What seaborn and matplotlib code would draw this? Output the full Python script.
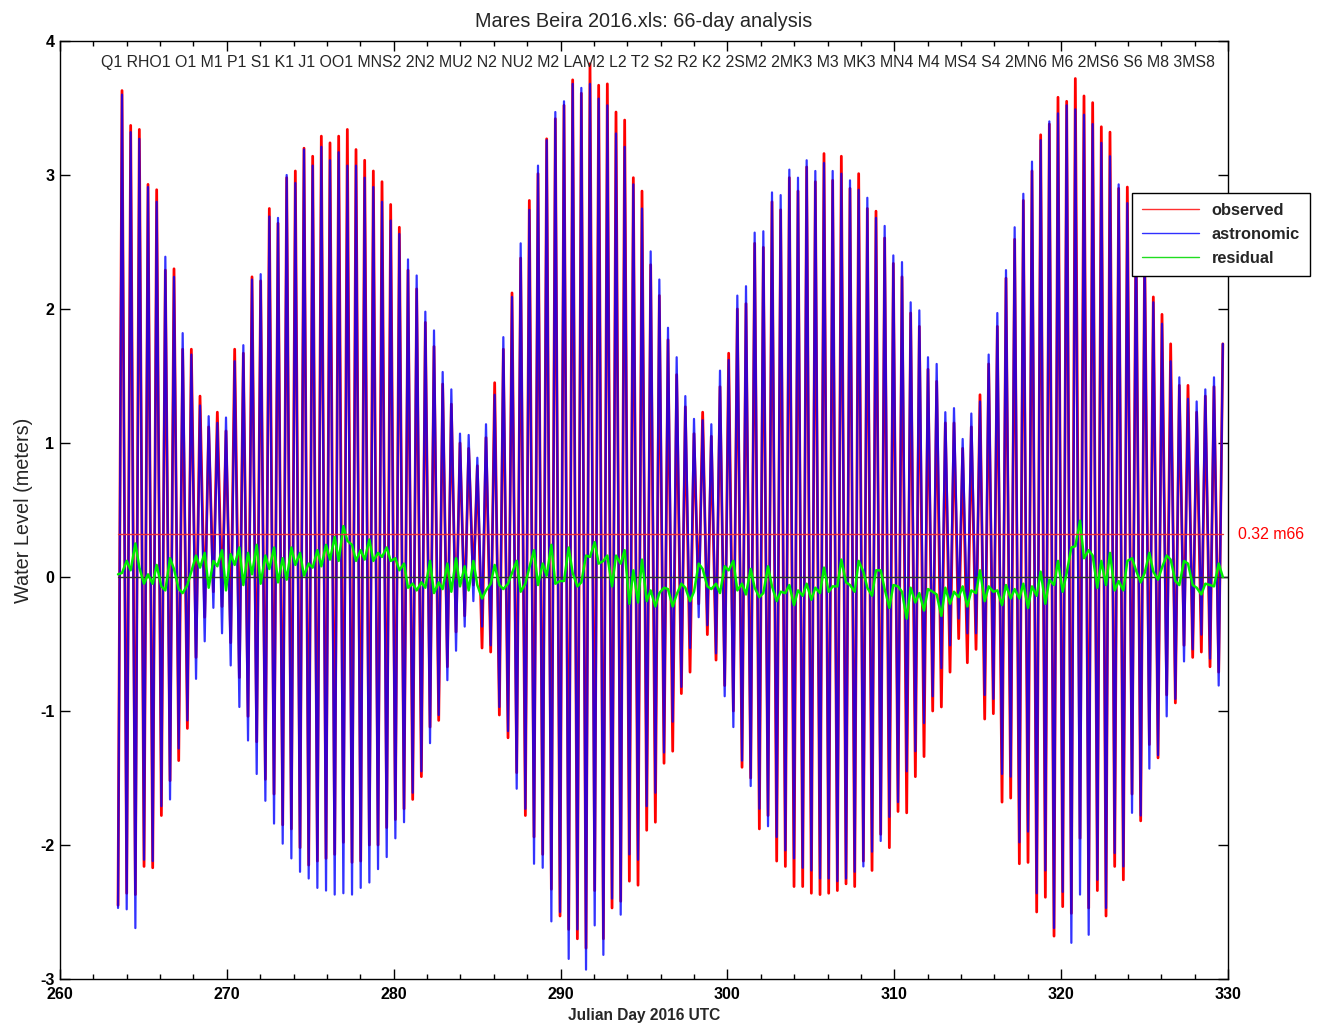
import numpy as np
import pandas as pd
import matplotlib
matplotlib.use("Agg")
import matplotlib.pyplot as plt
from matplotlib.lines import Line2D
from matplotlib.ticker import MultipleLocator
import seaborn as sns

# ---------------------------------------------------------------------------
# Tidal extremes, Beira 2016 (Julian day time base, metres)
# ---------------------------------------------------------------------------
first_high_day = 263.716      # day of the first high water
low_offset = -0.2378          # low waters relative to the high-water grid
extreme_period = 0.5194       # spacing of successive highs (days)

# astronomic (predicted) high waters
high_astro = [
    3.60, 3.32, 3.27, 2.91, 2.80, 2.39, 2.24, 1.82, 1.66, 1.28,
    1.20, 1.15, 1.19, 1.61, 1.73, 2.22, 2.26, 2.69, 2.68, 3.00,
    2.94, 3.19, 3.07, 3.21, 3.11, 3.17, 3.07, 3.07, 2.98, 2.91,
    2.80, 2.66, 2.56, 2.37, 2.25, 1.98, 1.84, 1.53, 1.40, 1.07,
    1.06, 0.89, 1.14, 1.36, 1.79, 2.09, 2.49, 2.74, 3.07, 3.26,
    3.47, 3.55, 3.68, 3.65, 3.68, 3.57, 3.52, 3.31, 3.21, 2.93,
    2.75, 2.43, 2.22, 1.86, 1.64, 1.35, 1.18, 1.17, 1.14, 1.54,
    1.62, 2.10, 2.17, 2.57, 2.58, 2.87, 2.85, 3.04, 2.98, 3.11,
    3.03, 3.09, 3.03, 3.01, 2.96, 2.89, 2.83, 2.68, 2.62, 2.40,
    2.35, 2.05, 1.99, 1.64, 1.59, 1.23, 1.26, 1.03, 1.22, 1.31,
    1.66, 1.97, 2.29, 2.61, 2.86, 3.10, 3.26, 3.40, 3.46, 3.52,
    3.49, 3.45, 3.38, 3.24, 3.14, 2.93, 2.79, 2.60, 2.42, 2.05,
    1.89, 1.61, 1.49, 1.33, 1.31, 1.40, 1.49,
]
# residual (observed - astronomic) at each high water
high_resid = [
    0.03, 0.05, 0.07, 0.02, 0.09, -0.10, 0.06, -0.12, 0.04, 0.07,
    -0.08, 0.08, -0.10, 0.09, -0.06, 0.02, -0.05, 0.06, -0.04, -0.02,
    0.09, 0.01, 0.07, 0.08, 0.13, 0.12, 0.27, 0.12, 0.13, 0.12,
    0.15, 0.12, 0.05, -0.08, -0.10, -0.08, -0.12, -0.09, -0.11, -0.07,
    -0.10, -0.06, -0.10, 0.09, -0.09, 0.03, -0.11, 0.07, -0.06, 0.01,
    -0.05, -0.03, 0.03, -0.04, 0.15, 0.10, 0.16, 0.16, 0.20, 0.05,
    0.13, -0.10, -0.12, -0.09, -0.13, -0.08, -0.11, 0.06, -0.09, -0.12,
    0.05, -0.10, -0.13, -0.08, -0.12, -0.07, -0.11, -0.06, -0.10, -0.05,
    -0.08, 0.07, -0.07, 0.13, -0.06, 0.12, -0.08, 0.05, -0.09, -0.06,
    -0.11, -0.08, -0.12, -0.09, -0.13, -0.08, -0.11, -0.07, -0.10, 0.05,
    -0.07, -0.10, -0.06, -0.09, -0.05, -0.07, 0.04, -0.02, 0.12, 0.03,
    0.23, 0.14, 0.16, 0.12, 0.18, -0.03, 0.12, 0.05, 0.03, 0.04,
    0.07, 0.13, -0.06, 0.10, -0.08, -0.05, -0.07,
]

# astronomic low waters
low_astro = [
    -2.47, -2.48, -2.62, -2.11, -2.12, -1.71, -1.66, -1.28, -1.07, -0.76,
    -0.48, -0.23, -0.42, -0.66, -0.97, -1.22, -1.47, -1.67, -1.84, -1.99,
    -2.10, -2.20, -2.25, -2.32, -2.34, -2.37, -2.36, -2.37, -2.32, -2.28,
    -2.18, -2.09, -1.95, -1.83, -1.61, -1.45, -1.24, -1.03, -0.77, -0.55,
    -0.37, -0.18, -0.37, -0.51, -0.97, -1.15, -1.58, -1.73, -2.14, -2.17,
    -2.57, -2.50, -2.85, -2.63, -2.93, -2.60, -2.82, -2.40, -2.52, -2.07,
    -2.11, -1.71, -1.61, -1.31, -1.08, -0.82, -0.53, -0.30, -0.36, -0.57,
    -0.89, -1.12, -1.37, -1.56, -1.73, -1.86, -1.94, -2.04, -2.10, -2.17,
    -2.19, -2.25, -2.25, -2.27, -2.25, -2.20, -2.16, -2.05, -1.97, -1.79,
    -1.68, -1.45, -1.30, -1.09, -0.89, -0.68, -0.51, -0.31, -0.42, -0.42,
    -0.88, -0.91, -1.47, -1.49, -1.98, -1.90, -2.36, -2.19, -2.62, -2.35,
    -2.73, -2.37, -2.67, -2.26, -2.47, -2.06, -2.16, -1.76, -1.78, -1.43,
    -1.33, -1.04, -0.91, -0.63, -0.54, -0.43, -0.61, -0.81,
]
# residual at each low water
low_resid = [
    0.02, 0.12, 0.25, -0.05, -0.05, -0.07, 0.14, -0.09, -0.06, 0.16,
    0.18, 0.12, 0.20, 0.17, 0.22, 0.18, 0.24, 0.16, 0.22, 0.14,
    0.22, 0.18, 0.10, 0.20, 0.24, 0.30, 0.38, 0.24, 0.20, 0.28,
    0.18, 0.22, 0.14, 0.10, -0.05, -0.04, 0.12, -0.04, 0.10, 0.14,
    0.08, 0.12, -0.16, -0.05, -0.06, -0.05, 0.12, -0.05, 0.20, 0.10,
    0.24, -0.03, 0.22, -0.07, 0.16, 0.26, 0.12, -0.07, 0.10, -0.20,
    -0.19, -0.18, -0.22, -0.08, -0.22, -0.05, -0.18, 0.10, -0.07, -0.05,
    0.08, 0.12, -0.05, 0.06, -0.15, 0.08, -0.18, -0.12, -0.21, -0.14,
    -0.17, -0.12, -0.11, -0.07, -0.04, -0.11, 0.04, -0.14, 0.05, -0.23,
    -0.07, -0.31, -0.19, -0.25, -0.11, -0.29, -0.20, -0.15, -0.22, -0.12,
    -0.18, -0.11, -0.21, -0.16, -0.16, -0.23, -0.14, -0.20, -0.06, -0.11,
    0.22, 0.42, 0.20, -0.08, -0.06, -0.10, -0.10, 0.14, -0.04, 0.18,
    -0.02, 0.16, -0.03, 0.12, -0.06, -0.13, -0.06, 0.10,
]

# last sample of the record
end_day = 329.69
end_level = 1.74
end_resid = 0.0

mean_level = 0.32
record_length = 66

constituents = ["Q1", "RHO1", "O1", "M1", "P1", "S1", "K1", "J1", "OO1",
                "MNS2", "2N2", "MU2", "N2", "NU2", "M2", "LAM2", "L2", "T2",
                "S2", "R2", "K2", "2SM2", "2MK3", "M3", "MK3", "MN4", "M4",
                "MS4", "S4", "2MN6", "M6", "2MS6", "S6", "M8", "3MS8"]

# ---------------------------------------------------------------------------
# Assemble the time series (low, high, low, high, ..., low, end)
# ---------------------------------------------------------------------------
t_high = first_high_day + extreme_period * np.arange(len(high_astro))
t_low = first_high_day + low_offset + extreme_period * np.arange(len(low_astro))

days, astro, resid = [], [], []
for j in range(len(low_astro)):
    days.append(t_low[j]); astro.append(low_astro[j]); resid.append(low_resid[j])
    if j < len(high_astro):
        days.append(t_high[j]); astro.append(high_astro[j]); resid.append(high_resid[j])
days.append(end_day); astro.append(end_level); resid.append(end_resid)

df = pd.DataFrame({"day": days, "astronomic": astro, "residual": resid})
df["observed"] = df["astronomic"] + df["residual"]

# ---------------------------------------------------------------------------
# Plot
# ---------------------------------------------------------------------------
sns.set_style("white")
plt.rcParams["font.family"] = ["Liberation Sans", "DejaVu Sans"]
plt.rcParams["axes.unicode_minus"] = False

fig = plt.figure(figsize=(13.21, 10.25), dpi=100)
ax = fig.add_axes([60 / 1321, 1 - 979 / 1025, 1168 / 1321, 938 / 1025])

sns.lineplot(data=df, x="day", y="observed", color="#ff0000", lw=2.0,
             sort=False, estimator=None, ax=ax, legend=False)
sns.lineplot(data=df, x="day", y="astronomic", color="#0000ff", lw=1.6,
             sort=False, estimator=None, ax=ax, legend=False, alpha=0.8)

t0, t1 = df["day"].min(), df["day"].max()
ax.plot([t0, 330], [0, 0], color="#303030", lw=1.0)
sns.lineplot(data=df, x="day", y="residual", color="#00ee00", lw=1.8,
             sort=False, estimator=None, ax=ax, legend=False)
ax.plot([t0, t1], [mean_level, mean_level], color="#e8303a", lw=1.0)
ax.text(330.6, mean_level, f"{mean_level:.2f} m{record_length}", color="red",
        fontsize=11.4, va="center", ha="left", clip_on=False)

ax.set_xlim(260, 330)
ax.set_ylim(-3, 4)
ax.xaxis.set_major_locator(MultipleLocator(10))
ax.xaxis.set_minor_locator(MultipleLocator(2))
ax.yaxis.set_major_locator(MultipleLocator(1))
ax.tick_params(axis="both", which="both", direction="in", top=True,
               right=True, bottom=True, left=True, width=1.0, colors="black")
ax.tick_params(which="major", length=7.5, labelsize=11.5)
ax.tick_params(axis="x", which="major", pad=6)
ax.tick_params(axis="y", which="major", pad=4)
ax.tick_params(which="minor", length=3.5)
for lbl in ax.get_xticklabels() + ax.get_yticklabels():
    lbl.set_fontweight("bold")
for sp in ax.spines.values():
    sp.set_color("black")
    sp.set_linewidth(1.0)

ax.set_xlabel("Julian Day 2016 UTC", fontsize=11.2, fontweight="bold", labelpad=4)
ax.set_ylabel("Water Level (meters)", fontsize=14.3, labelpad=5)
ax.set_title("Mares Beira 2016.xls: 66-day analysis", fontsize=14.3, pad=10)

ax.text(0.5116, 0.9776, " ".join(constituents), transform=ax.transAxes,
        ha="center", va="center", fontsize=11.4)

handles = [Line2D([], [], color="#ff3030", lw=1.0),
           Line2D([], [], color="#3030ff", lw=1.0),
           Line2D([], [], color="#20dd20", lw=1.0)]
leg = ax.legend(handles, ["observed", "astronomic", "residual"],
                loc="upper left", bbox_to_anchor=(0.918, 0.838),
                borderaxespad=0, frameon=True, fancybox=False,
                framealpha=1, edgecolor="black", handlelength=3.5,
                handletextpad=0.75, labelspacing=0.55, borderpad=0.6,
                prop={"weight": "bold", "size": 11.8})
leg.get_frame().set_linewidth(1.0)
leg.set_zorder(10)

fig.savefig("out.png", dpi=100)
